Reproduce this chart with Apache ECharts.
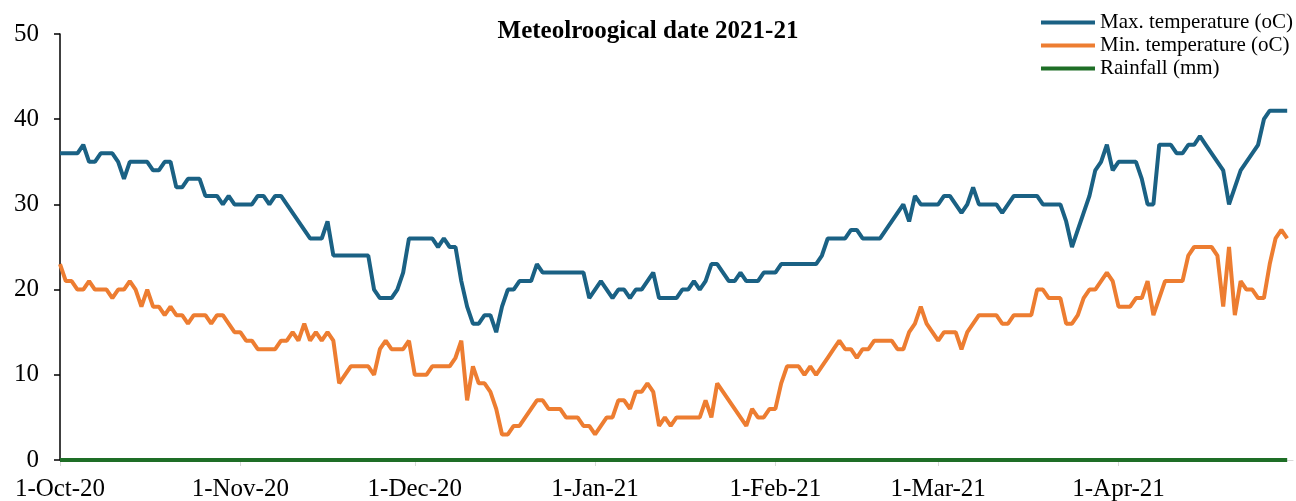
<!DOCTYPE html>
<html>
<head>
<meta charset="utf-8">
<script src="https://cdn.jsdelivr.net/npm/echarts@6/dist/echarts.min.js"></script>
<style>
  html, body { margin: 0; padding: 0; background: #fff; }
  #chart { width: 1296px; height: 501px; }
</style>
</head>
<body>
<div id="chart"></div>
<script>
// one value per day, day 0 = 1-Oct-20
var maxTemp = [
  36, 36, 36, 36, 37, 35, 35, 36, 36, 36, 35, 33, 35, 35, 35, 35, 34, 34, 35, 35,
  32, 32, 33, 33, 33, 31, 31, 31, 30, 31, 30, 30, 30, 30, 31, 31, 30, 31, 31, 30,
  29, 28, 27, 26, 26, 26, 28, 24, 24, 24, 24, 24, 24, 24, 20, 19, 19, 19, 20, 22,
  26, 26, 26, 26, 26, 25, 26, 25, 25, 21, 18, 16, 16, 17, 17, 15, 18, 20, 20, 21,
  21, 21, 23, 22, 22, 22, 22, 22, 22, 22, 22, 19, 20, 21, 20, 19, 20, 20, 19, 20,
  20, 21, 22, 19, 19, 19, 19, 20, 20, 21, 20, 21, 23, 23, 22, 21, 21, 22, 21, 21,
  21, 22, 22, 22, 23, 23, 23, 23, 23, 23, 23, 24, 26, 26, 26, 26, 27, 27, 26, 26,
  26, 26, 27, 28, 29, 30, 28, 31, 30, 30, 30, 30, 31, 31, 30, 29, 30, 32, 30, 30,
  30, 30, 29, 30, 31, 31, 31, 31, 31, 30, 30, 30, 30, 28, 25, 27, 29, 31, 34, 35,
  37, 34, 35, 35, 35, 35, 33, 30, 30, 37, 37, 37, 36, 36, 37, 37, 38, 37, 36, 35,
  34, 30, 32, 34, 35, 36, 37, 40, 41, 41, 41, 41
]
var minTemp = [
  23, 21, 21, 20, 20, 21, 20, 20, 20, 19, 20, 20, 21, 20, 18, 20, 18, 18, 17, 18,
  17, 17, 16, 17, 17, 17, 16, 17, 17, 16, 15, 15, 14, 14, 13, 13, 13, 13, 14, 14,
  15, 14, 16, 14, 15, 14, 15, 14, 9, 10, 11, 11, 11, 11, 10, 13, 14, 13, 13, 13,
  14, 10, 10, 10, 11, 11, 11, 11, 12, 14, 7, 11, 9, 9, 8, 6, 3, 3, 4, 4,
  5, 6, 7, 7, 6, 6, 6, 5, 5, 5, 4, 4, 3, 4, 5, 5, 7, 7, 6, 8,
  8, 9, 8, 4, 5, 4, 5, 5, 5, 5, 5, 7, 5, 9, 8, 7, 6, 5, 4, 6,
  5, 5, 6, 6, 9, 11, 11, 11, 10, 11, 10, 11, 12, 13, 14, 13, 13, 12, 13, 13,
  14, 14, 14, 14, 13, 13, 15, 16, 18, 16, 15, 14, 15, 15, 15, 13, 15, 16, 17, 17,
  17, 17, 16, 16, 17, 17, 17, 17, 20, 20, 19, 19, 19, 16, 16, 17, 19, 20, 20, 21,
  22, 21, 18, 18, 18, 19, 19, 21, 17, 19, 21, 21, 21, 21, 24, 25, 25, 25, 25, 24,
  18, 25, 17, 21, 20, 20, 19, 19, 23, 26, 27, 26
]
var rainfall = [
  0, 0, 0, 0, 0, 0, 0, 0, 0, 0, 0, 0, 0, 0, 0, 0, 0, 0, 0, 0,
  0, 0, 0, 0, 0, 0, 0, 0, 0, 0, 0, 0, 0, 0, 0, 0, 0, 0, 0, 0,
  0, 0, 0, 0, 0, 0, 0, 0, 0, 0, 0, 0, 0, 0, 0, 0, 0, 0, 0, 0,
  0, 0, 0, 0, 0, 0, 0, 0, 0, 0, 0, 0, 0, 0, 0, 0, 0, 0, 0, 0,
  0, 0, 0, 0, 0, 0, 0, 0, 0, 0, 0, 0, 0, 0, 0, 0, 0, 0, 0, 0,
  0, 0, 0, 0, 0, 0, 0, 0, 0, 0, 0, 0, 0, 0, 0, 0, 0, 0, 0, 0,
  0, 0, 0, 0, 0, 0, 0, 0, 0, 0, 0, 0, 0, 0, 0, 0, 0, 0, 0, 0,
  0, 0, 0, 0, 0, 0, 0, 0, 0, 0, 0, 0, 0, 0, 0, 0, 0, 0, 0, 0,
  0, 0, 0, 0, 0, 0, 0, 0, 0, 0, 0, 0, 0, 0, 0, 0, 0, 0, 0, 0,
  0, 0, 0, 0, 0, 0, 0, 0, 0, 0, 0, 0, 0, 0, 0, 0, 0, 0, 0, 0,
  0, 0, 0, 0, 0, 0, 0, 0, 0, 0, 0, 0
]
var tickDays = [0, 31, 61, 92, 123, 151, 182]
var tickLabels = ['1-Oct-20', '1-Nov-20', '1-Dec-20', '1-Jan-21', '1-Feb-21', '1-Mar-21', '1-Apr-21']
var seriesNames = ['Max. temperature (oC)', 'Min. temperature (oC)', 'Rainfall (mm)']

var font = 'Liberation Serif, Times New Roman, serif'

function toPoints(arr) {
  return arr.map(function (v, i) { return [i, v] })
}

var chart = echarts.init(document.getElementById('chart'))
chart.setOption({
  animation: false,
  title: {
    text: 'Meteolroogical date 2021-21',
    left: 'center',
    top: 14,
    textStyle: { fontFamily: font, fontSize: 25, fontWeight: 'bold', color: '#000' }
  },
  legend: {
    orient: 'vertical',
    right: -2,
    top: 7,
    itemWidth: 54,
    itemHeight: 4,
    itemGap: 2,
    icon: 'rect',
    textStyle: { fontFamily: font, fontSize: 21, color: '#000' },
    data: seriesNames
  },
  grid: {
    left: 60,
    right: 3,
    top: 34,
    bottom: 41,
    outerBoundsMode: 'none'
  },
  xAxis: {
    type: 'value',
    min: 0,
    max: 212,
    splitLine: { show: false },
    axisLine: { show: true, lineStyle: { color: '#d9d9d9' } },
    axisTick: { show: true, length: 6, customValues: tickDays, lineStyle: { color: '#d9d9d9' } },
    axisLabel: {
      customValues: tickDays,
      margin: 17,
      fontFamily: font,
      fontSize: 25,
      color: '#000',
      formatter: function (v) {
        return tickLabels[tickDays.indexOf(v)]
      }
    }
  },
  yAxis: {
    type: 'value',
    min: 0,
    max: 50,
    interval: 10,
    splitLine: { show: false },
    axisLine: { show: true, lineStyle: { color: '#000', width: 1.5 } },
    axisTick: { show: true, length: 6, lineStyle: { color: '#000', width: 1.5 } },
    axisLabel: { margin: 21, fontFamily: font, fontSize: 25, color: '#000' }
  },
  series: [{
    name: seriesNames[0],
    type: 'line',
    data: toPoints(maxTemp),
    symbol: 'none',
    color: '#1a6184',
    lineStyle: { width: 4, color: '#1a6184' }
  }, {
    name: seriesNames[1],
    type: 'line',
    data: toPoints(minTemp),
    symbol: 'none',
    color: '#ed7d31',
    lineStyle: { width: 4, color: '#ed7d31' }
  }, {
    name: seriesNames[2],
    type: 'line',
    data: toPoints(rainfall),
    symbol: 'none',
    color: '#1e6e26',
    lineStyle: { width: 4, color: '#1e6e26' }
  }]
})
</script>
</body>
</html>
